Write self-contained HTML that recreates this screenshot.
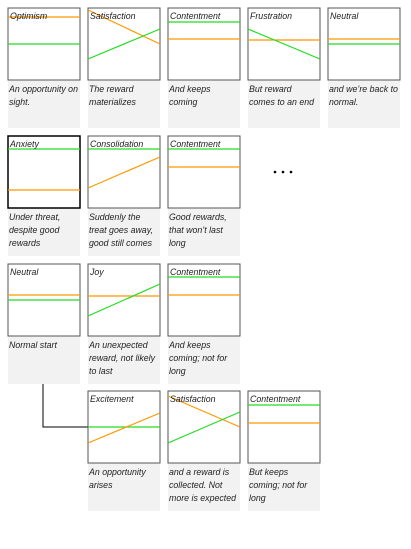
<!DOCTYPE html>
<html><head><meta charset="utf-8"><style>
html,body{margin:0;padding:0;background:#fff}
svg{display:block}
text{font-family:"Liberation Sans",sans-serif;font-size:8.8px;font-style:italic;fill:#222}
.b{fill:#fff;stroke:#555;stroke-width:1}
.c{fill:#f2f2f2}
.g{stroke:#22dd22;stroke-width:1.2}
.o{stroke:#ff9900;stroke-width:1.2}
</style></head><body>
<svg width="411" height="549" viewBox="0 0 411 549" xmlns="http://www.w3.org/2000/svg">
<polyline points="43,384 43,427 88,427" fill="none" stroke="#000" stroke-width="1"/>
<g class="c">
<rect x="8" y="80" width="72" height="48"/><rect x="88" y="80" width="72" height="48"/><rect x="168" y="80" width="72" height="48"/><rect x="248" y="80" width="72" height="48"/><rect x="328" y="80" width="72" height="48"/>
<rect x="8" y="208" width="72" height="48"/><rect x="88" y="208" width="72" height="48"/><rect x="168" y="208" width="72" height="48"/>
<rect x="8" y="336" width="72" height="48"/><rect x="88" y="336" width="72" height="48"/><rect x="168" y="336" width="72" height="48"/>
<rect x="88" y="463" width="72" height="48"/><rect x="168" y="463" width="72" height="48"/><rect x="248" y="463" width="72" height="48"/>
</g>
<g class="b">
<rect x="8" y="8" width="72" height="72"/><rect x="88" y="8" width="72" height="72"/><rect x="168" y="8" width="72" height="72"/><rect x="248" y="8" width="72" height="72"/><rect x="328" y="8" width="72" height="72"/>
<rect x="88" y="136" width="72" height="72"/><rect x="168" y="136" width="72" height="72"/>
<rect x="8" y="264" width="72" height="72"/><rect x="88" y="264" width="72" height="72"/><rect x="168" y="264" width="72" height="72"/>
<rect x="88" y="391" width="72" height="72"/><rect x="168" y="391" width="72" height="72"/><rect x="248" y="391" width="72" height="72"/>
</g>
<rect x="8" y="136" width="72" height="72" fill="#fff" stroke="#000" stroke-width="1.5"/>
<line class="g" x1="8" y1="44" x2="80" y2="44"/>
<line class="o" x1="88" y1="10" x2="160" y2="44"/><line class="g" x1="88" y1="59" x2="160" y2="29"/>
<line class="g" x1="168" y1="22" x2="240" y2="22"/><line class="o" x1="168" y1="39" x2="240" y2="39"/>
<line class="o" x1="248" y1="40" x2="320" y2="40"/><line class="g" x1="248" y1="29" x2="320" y2="59"/>
<line class="o" x1="328" y1="39" x2="400" y2="39"/><line class="g" x1="328" y1="44" x2="400" y2="44"/>
<line class="g" x1="8" y1="149" x2="80" y2="149"/><line class="o" x1="8" y1="190" x2="80" y2="190"/>
<line class="g" x1="88" y1="149" x2="160" y2="149"/><line class="o" x1="88" y1="188" x2="160" y2="157"/>
<line class="g" x1="168" y1="149" x2="240" y2="149"/><line class="o" x1="168" y1="167" x2="240" y2="167"/>
<line class="o" x1="8" y1="295" x2="80" y2="295"/><line class="g" x1="8" y1="300" x2="80" y2="300"/>
<line class="o" x1="88" y1="296" x2="160" y2="296"/><line class="g" x1="88" y1="316" x2="160" y2="284"/>
<line class="g" x1="168" y1="277" x2="240" y2="277"/><line class="o" x1="168" y1="295" x2="240" y2="295"/>
<line class="g" x1="88" y1="427" x2="160" y2="427"/><line class="o" x1="88" y1="443" x2="160" y2="413"/>
<line class="o" x1="168" y1="396" x2="240" y2="427"/><line class="g" x1="168" y1="443" x2="240" y2="412"/>
<line class="g" x1="248" y1="405" x2="320" y2="405"/><line class="o" x1="248" y1="423" x2="320" y2="423"/>
<line class="o" x1="8" y1="17" x2="80" y2="17"/>
<circle cx="275" cy="172" r="1.3" fill="#000"/><circle cx="283" cy="172" r="1.3" fill="#000"/><circle cx="291" cy="172" r="1.3" fill="#000"/>
<text x="10" y="19">Optimism</text><text x="90" y="19">Satisfaction</text><text x="170" y="19">Contentment</text><text x="250" y="19">Frustration</text><text x="330" y="19">Neutral</text>
<text x="10" y="147">Anxiety</text><text x="90" y="147">Consolidation</text><text x="170" y="147">Contentment</text>
<text x="10" y="275">Neutral</text><text x="90" y="275">Joy</text><text x="170" y="275">Contentment</text>
<text x="90" y="402">Excitement</text><text x="170" y="402">Satisfaction</text><text x="250" y="402">Contentment</text>
<text x="9" y="92">An opportunity on</text><text x="9" y="105">sight.</text>
<text x="89" y="92">The reward</text><text x="89" y="105">materializes</text>
<text x="169" y="92">And keeps</text><text x="169" y="105">coming</text>
<text x="249" y="92">But reward</text><text x="249" y="105">comes to an end</text>
<text x="329" y="92">and we’re back to</text><text x="329" y="105">normal.</text>
<text x="9" y="220">Under threat,</text><text x="9" y="233">despite good</text><text x="9" y="246">rewards</text>
<text x="89" y="220">Suddenly the</text><text x="89" y="233">treat goes away,</text><text x="89" y="246">good still comes</text>
<text x="169" y="220">Good rewards,</text><text x="169" y="233">that won’t last</text><text x="169" y="246">long</text>
<text x="9" y="348">Normal start</text>
<text x="89" y="348">An unexpected</text><text x="89" y="361">reward, not likely</text><text x="89" y="374">to last</text>
<text x="169" y="348">And keeps</text><text x="169" y="361">coming; not for</text><text x="169" y="374">long</text>
<text x="89" y="475">An opportunity</text><text x="89" y="488">arises</text>
<text x="169" y="475">and a reward is</text><text x="169" y="488">collected. Not</text><text x="169" y="501">more is expected</text>
<text x="249" y="475">But keeps</text><text x="249" y="488">coming; not for</text><text x="249" y="501">long</text>
</svg>
</body></html>
